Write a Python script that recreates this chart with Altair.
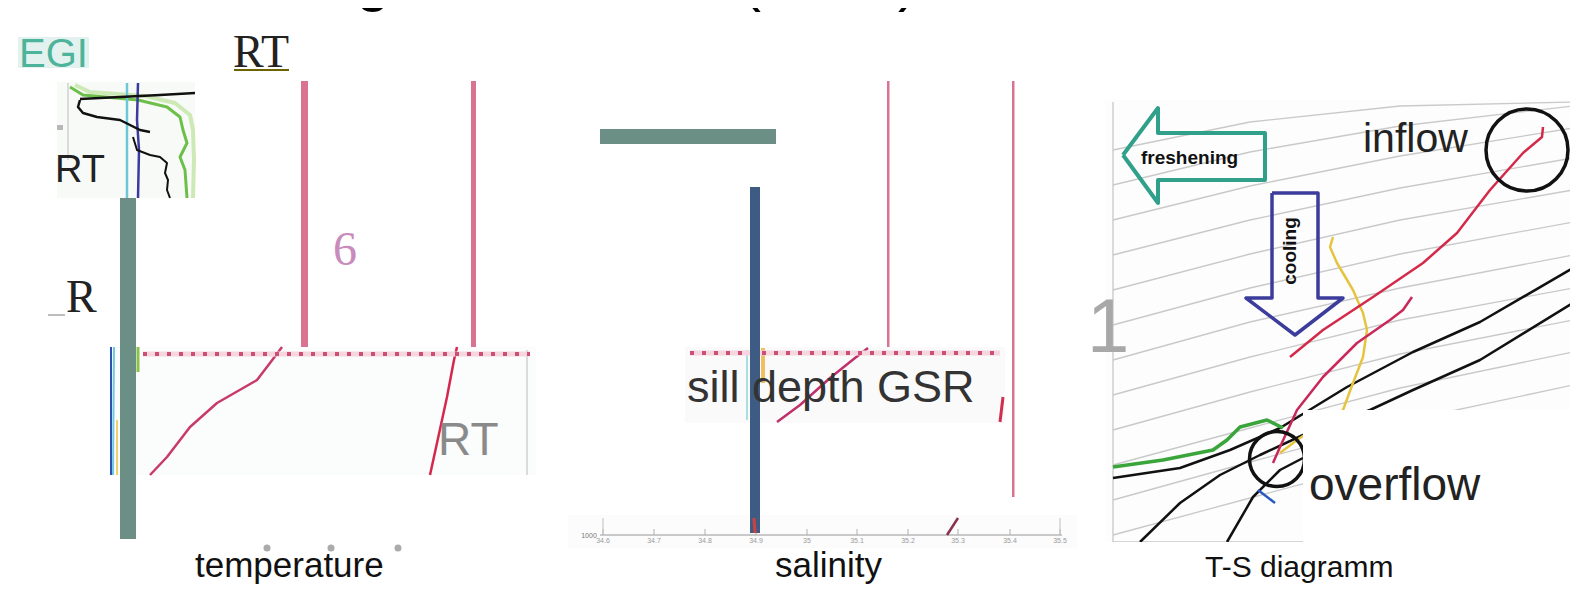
import altair as alt
import pandas as pd

# ---------------- data (pixel units of the slide) -------------
# image patches (x, x2, y, y2, fill)
PATCH_X = [18, 57, 109, 685, 568, 1105, 1105, 57]
PATCH_X2 = [89, 195, 536, 1005, 1077, 1578, 1303, 63]
PATCH_Y = [37, 82, 347, 347, 515, 100, 410, 125]
PATCH_Y2 = [68, 198, 475, 423, 548, 410, 545, 130]
PATCH_FILL = ["#e4f2ef", "#f8faf7", "#fbfcfc", "#fbfafa", "#fcfcfc", "#fdfdfd", "#fdfdfd", "#b8b8b8"]

# bars / solid strokes drawn on top (x, x2, y, y2, fill)
BAR_X = [301, 471, 887, 1012, 120, 600, 750, 234, 48]
BAR_X2 = [308, 476, 889.5, 1014.5, 136, 776, 760, 289, 65]
BAR_Y = [81, 81, 81, 81, 198, 129, 187, 69, 314]
BAR_Y2 = [347, 347, 347, 497, 539, 144, 533, 71, 316]
BAR_FILL = ["#d8748f", "#d8748f", "#d8748f", "#d8748f", "#6b8f85", "#6b8f85", "#3e5c83", "#6b6300", "#bdbdbd"]

# T-S isopycnals (grey)
ISO_X = [1113, 1250, 1400, 1573]
ISO_Y = [
    [150, 122, 106, 102],
    [185, 152, 126, 106],
    [220, 186, 156, 128],
    [255, 220, 188, 158],
    [290, 254, 220, 190],
    [325, 288, 254, 222],
    [360, 322, 288, 255],
    [395, 357, 320, 288],
    [430, 392, 354, 320],
    [465, 428, 388, 352],
    [500, 462, 422, 385],
    [535, 498, 458, 418],
]

# T-S curves
B1_X = [1113, 1180, 1230, 1280, 1347, 1413, 1480, 1573]
B1_Y = [478, 468, 450, 428, 387, 352, 322, 268]
B2_X = [1140, 1180, 1220, 1260, 1303, 1370, 1413, 1480, 1573]
B2_Y = [542, 503, 475, 455, 435, 410, 390, 360, 303]
B3_X = [1227, 1253, 1280, 1303]
B3_Y = [542, 497, 470, 458]
RED_IN_X = [1543, 1542, 1523, 1490, 1457, 1423, 1373, 1323, 1290]
RED_IN_Y = [127, 137, 153, 190, 233, 263, 297, 330, 357]
CRIMSON_X = [1412, 1403, 1390, 1357, 1323, 1297, 1280, 1273]
CRIMSON_Y = [297, 310, 320, 343, 377, 410, 447, 463]
YELLOW_X = [1333, 1330, 1337, 1353, 1363, 1367, 1363, 1353, 1343, 1327, 1297, 1280]
YELLOW_Y = [237, 247, 263, 290, 313, 330, 357, 383, 410, 420, 440, 453]
GREEN_X = [1113, 1163, 1213, 1227, 1240, 1267, 1283]
GREEN_Y = [467, 460, 450, 440, 427, 420, 428]
BLUE_X = [1258, 1275]
BLUE_Y = [490, 503]
FRESH_X = [1123, 1158, 1158, 1265, 1265, 1158, 1158, 1123]
FRESH_Y = [155, 108, 133, 133, 180, 180, 203, 155]
COOL_X = [1272, 1318, 1318, 1343, 1295, 1246, 1272, 1272]
COOL_Y = [193, 193, 298, 298, 335, 298, 298, 193]
TS_AXIS_X = [1113, 1113, 1303]
TS_AXIS_Y = [102, 542, 542]

# small profile image (top left)
SB1_X = [80, 120, 160, 195]
SB1_Y = [99, 97, 95, 93]
SB2_X = [80, 78, 83, 97, 120, 130, 140, 150]
SB2_Y = [100, 107, 113, 117, 120, 125, 130, 132]
SB3_X = [133, 137, 150, 160, 167, 165, 168, 167, 170]
SB3_Y = [137, 150, 155, 157, 163, 173, 180, 190, 198]
SCYAN_X = [127, 127]
SCYAN_Y = [83, 198]
SBLUE_X = [138, 137, 139, 138]
SBLUE_Y = [83, 120, 150, 198]
SGREEN_X = [70, 83, 138, 167, 180, 183, 187, 180, 185, 187]
SGREEN_Y = [87, 95, 100, 107, 117, 130, 143, 157, 170, 198]
SGREEN2_X = [75, 90, 145, 175, 190, 193, 194, 193]
SGREEN2_Y = [85, 92, 96, 103, 115, 130, 160, 198]
SGRID_X = [68, 68]
SGRID_Y = [83, 160]

# temperature strip
TRED1_X = [150, 167, 190, 217, 257, 270, 282]
TRED1_Y = [475, 457, 427, 403, 380, 363, 347]
TRED2_X = [430, 437, 447, 454, 457]
TRED2_Y = [475, 443, 397, 360, 347]
TBLUE_X = [111, 111]
TBLUE_Y = [347, 475]
TCYAN_X = [114, 113]
TCYAN_Y = [347, 475]
TYEL_X = [117, 117]
TYEL_Y = [420, 475]
TGREEN_X = [138, 138]
TGREEN_Y = [347, 372]
TBORDER_X = [527, 527]
TBORDER_Y = [350, 475]

# sill strip
SRED_X = [777, 800, 830, 855, 868]
SRED_Y = [422, 405, 378, 358, 348]
SRED2_X = [1003, 1000]
SRED2_Y = [397, 422]
SYEL_X = [763, 763]
SYEL_Y = [348, 383]
SCY2_X = [747, 747]
SCY2_Y = [350, 420]

# salinity axis strip
SAL_AXIS_X = [600, 1062]
SAL_AXIS_Y = [535, 535]
SAL_TICK_X = [603, 654, 705, 756, 807, 857, 908, 958, 1010, 1060]
SAL_TICK_LABELS = ["34.6", "34.7", "34.8", "34.9", "35", "35.1", "35.2", "35.3", "35.4", "35.5"]
SAL_DIAG_X = [947, 958]
SAL_DIAG_Y = [535, 518]
SAL_RED_X = [754, 755]
SAL_RED_Y = [518, 533]

# dotted "sill depth" lines
DOT_X = [143, 690]
DOT_X2 = [530, 1000]
DOT_Y = [354, 353]

# circles
CIRC_X = [1527, 1277]
CIRC_Y = [150, 459]
CIRC_D = [82, 55]

# grey dots
GDOT_X = [267, 331, 398]
GDOT_Y = [548, 548, 548]

# texts (sans, left aligned): text, x, baseline y, font size, colour
SANS_TEXT = ["EGI", "RT", "RT", "sill depth GSR", "temperature", "salinity", "T-S diagramm",
             "inflow", "overflow", "1"]
SANS_X = [19, 55, 438, 687, 195, 775, 1205, 1363, 1309, 1087]
SANS_Y = [67, 182, 455, 402, 577, 577, 577, 152, 500, 352]
SANS_FS = [40, 38, 46, 45, 35, 35, 30, 41, 46, 76]
SANS_C = ["#4db39b", "#222222", "#8a8a8a", "#333333", "#111111", "#111111", "#111111",
          "#222222", "#222222", "#a8a8a8"]
# title fragments at the very top (centered)
TITLE_TEXT = ["g", "(", ")"]
TITLE_X = [373, 751, 908]
TITLE_Y = [0, 0, 0]
# serif texts
SERIF_TEXT = ["RT", "R", "6"]
SERIF_X = [233, 66, 333]
SERIF_Y = [67, 312, 265]
SERIF_FS = [46, 46, 48]
SERIF_C = ["#222222", "#222222", "#c98bbb"]
# bold arrow labels
BOLD_TEXT = ["freshening"]
BOLD_X = [1141]
BOLD_Y = [164]
ROT_TEXT = ["cooling"]
ROT_X = [1290]
ROT_Y = [251]
# white mask behind "overflow" and cut edges
MASK_X = [1303, 1305, 1100]
MASK_X2 = [1578, 1500, 1310]
MASK_Y = [410, 455, 542]
MASK_Y2 = [584, 508, 584]

# ---------------- build tables -------------
XS = alt.Scale(domain=[8, 1570], nice=False, zero=False)
YS = alt.Scale(domain=[8, 584], nice=False, zero=False, reverse=True)


def X(f="x"):
    return alt.X(f"{f}:Q", scale=XS, axis=None)


def Y(f="y"):
    return alt.Y(f"{f}:Q", scale=YS, axis=None)


def rect_df(x, x2, y, y2, fill):
    return pd.DataFrame({"x": x, "x2": x2, "y": y, "y2": y2, "fill": fill})


lines = []


def add_line(name, xs, ys, color, width):
    for i, (a, b) in enumerate(zip(xs, ys)):
        lines.append({"s": name, "i": i, "x": a, "y": b, "c": color, "w": width})


for k, ys in enumerate(ISO_Y):
    add_line(f"iso{k}", ISO_X, ys, "#c9c9c9", 1.3)
add_line("tsaxis", TS_AXIS_X, TS_AXIS_Y, "#c8c8c8", 1.3)
add_line("b1", B1_X, B1_Y, "#111111", 2.5)
add_line("b2", B2_X, B2_Y, "#111111", 2.5)
add_line("b3", B3_X, B3_Y, "#111111", 2.5)
add_line("yellow", YELLOW_X, YELLOW_Y, "#e6c440", 2.5)
add_line("redin", RED_IN_X, RED_IN_Y, "#d42a4a", 2.5)
add_line("crimson", CRIMSON_X, CRIMSON_Y, "#c8285a", 2.5)
add_line("green", GREEN_X, GREEN_Y, "#3aa53a", 3.5)
add_line("blue", BLUE_X, BLUE_Y, "#2858c0", 2.5)
add_line("fresh", FRESH_X, FRESH_Y, "#30a08a", 4)
add_line("cool", COOL_X, COOL_Y, "#3c3c9c", 3.5)
ts_lines = pd.DataFrame(lines)

lines = []
add_line("sgrid", SGRID_X, SGRID_Y, "#d0d0d0", 1.5)
add_line("sgreen2", SGREEN2_X, SGREEN2_Y, "#cde9b5", 4)
add_line("sgreen", SGREEN_X, SGREEN_Y, "#6cc04a", 3)
add_line("scyan", SCYAN_X, SCYAN_Y, "#6cc8d8", 2.5)
add_line("sblue", SBLUE_X, SBLUE_Y, "#3a3aa0", 2.5)
add_line("sb1", SB1_X, SB1_Y, "#111111", 2.5)
add_line("sb2", SB2_X, SB2_Y, "#111111", 2.5)
add_line("sb3", SB3_X, SB3_Y, "#111111", 2)
add_line("tred1", TRED1_X, TRED1_Y, "#c83a6a", 2.5)
add_line("tred2", TRED2_X, TRED2_Y, "#d4284e", 2.5)
add_line("tblue", TBLUE_X, TBLUE_Y, "#3050b0", 2)
add_line("tcyan", TCYAN_X, TCYAN_Y, "#70c8e8", 2)
add_line("tyel", TYEL_X, TYEL_Y, "#f0d070", 2)
add_line("tgreen", TGREEN_X, TGREEN_Y, "#8bc34a", 3)
add_line("tborder", TBORDER_X, TBORDER_Y, "#d0d0d0", 1.5)
add_line("sred", SRED_X, SRED_Y, "#c0306a", 2.5)
add_line("sred2", SRED2_X, SRED2_Y, "#d03050", 3)
add_line("syel", SYEL_X, SYEL_Y, "#f0c060", 4)
add_line("scy2", SCY2_X, SCY2_Y, "#a8e0e0", 2)
add_line("salaxis", SAL_AXIS_X, SAL_AXIS_Y, "#b8b8b8", 1.5)
add_line("saldiag", SAL_DIAG_X, SAL_DIAG_Y, "#8a3050", 2.5)
for k, t in enumerate(SAL_TICK_X):
    add_line(f"tick{k}", [t, t], [529, 535], "#b0b0b0", 1)
add_line("tickl", [603, 603], [518, 535], "#c0c0c0", 1)
add_line("tickr", [1060, 1060], [518, 535], "#c0c0c0", 1)
other_lines = pd.DataFrame(lines)

lines = []
add_line("salred", SAL_RED_X, SAL_RED_Y, "#d04040", 3)
top_lines = pd.DataFrame(lines)


def line_layer(df):
    return alt.Chart(df).mark_line(strokeCap="butt", strokeJoin="round").encode(
        x=X(), y=Y(), detail="s:N", order="i:Q",
        color=alt.Color("c:N", scale=None),
        strokeWidth=alt.StrokeWidth("w:Q", scale=None),
    )


def rect_layer(df):
    return alt.Chart(df).mark_rect().encode(
        x=X(), x2="x2:Q", y=Y(), y2="y2:Q", color=alt.Color("fill:N", scale=None)
    )


patches = rect_layer(rect_df(PATCH_X, PATCH_X2, PATCH_Y, PATCH_Y2, PATCH_FILL))
bars = rect_layer(rect_df(BAR_X, BAR_X2, BAR_Y, BAR_Y2, BAR_FILL))
masks = rect_layer(rect_df(MASK_X, MASK_X2, MASK_Y, MASK_Y2, ["#ffffff"] * len(MASK_X)))

dots_df = pd.DataFrame({"x": DOT_X, "x2": DOT_X2, "y": DOT_Y})
dot_bg = alt.Chart(dots_df).mark_rule(color="#f6d6df", strokeWidth=5).encode(x=X(), x2="x2:Q", y=Y())
dots = alt.Chart(dots_df).mark_rule(color="#cc4f78", strokeWidth=4, strokeDash=[4, 8]).encode(
    x=X(), x2="x2:Q", y=Y())

circ_df = pd.DataFrame({"x": CIRC_X, "y": CIRC_Y, "size": [d * d for d in CIRC_D]})
circles = alt.Chart(circ_df).mark_point(shape="circle", filled=False, color="#111111",
                                        strokeWidth=3.5, opacity=1).encode(
    x=X(), y=Y(), size=alt.Size("size:Q", scale=None))

gdots = alt.Chart(pd.DataFrame({"x": GDOT_X, "y": GDOT_Y})).mark_point(
    shape="circle", filled=True, color="#ababab", size=49, opacity=1).encode(x=X(), y=Y())

sans = alt.Chart(pd.DataFrame({"t": SANS_TEXT, "x": SANS_X, "y": SANS_Y, "fs": SANS_FS, "c": SANS_C})
                 ).mark_text(font="Liberation Sans", align="left", baseline="alphabetic").encode(
    x=X(), y=Y(), text="t:N", size=alt.Size("fs:Q", scale=None), color=alt.Color("c:N", scale=None))

title = alt.Chart(pd.DataFrame({"t": TITLE_TEXT, "x": TITLE_X, "y": TITLE_Y})).mark_text(
    font="Liberation Sans", align="center", baseline="alphabetic", fontSize=60, color="#000000").encode(
    x=X(), y=Y(), text="t:N")

serif = alt.Chart(pd.DataFrame({"t": SERIF_TEXT, "x": SERIF_X, "y": SERIF_Y, "fs": SERIF_FS, "c": SERIF_C})
                  ).mark_text(font="Liberation Serif", align="left", baseline="alphabetic").encode(
    x=X(), y=Y(), text="t:N", size=alt.Size("fs:Q", scale=None), color=alt.Color("c:N", scale=None))

bold = alt.Chart(pd.DataFrame({"t": BOLD_TEXT, "x": BOLD_X, "y": BOLD_Y})).mark_text(
    font="Liberation Sans", fontWeight="bold", align="left", baseline="alphabetic", fontSize=19,
    color="#111111").encode(x=X(), y=Y(), text="t:N")

rot = alt.Chart(pd.DataFrame({"t": ROT_TEXT, "x": ROT_X, "y": ROT_Y})).mark_text(
    font="Liberation Sans", fontWeight="bold", align="center", baseline="middle", fontSize=19,
    angle=270, color="#111111").encode(x=X(), y=Y(), text="t:N")

ticks = alt.Chart(pd.DataFrame({"t": SAL_TICK_LABELS, "x": SAL_TICK_X, "y": [543] * len(SAL_TICK_X)})
                  ).mark_text(font="Liberation Sans", align="center", baseline="alphabetic", fontSize=7,
                              color="#9a9a9a").encode(x=X(), y=Y(), text="t:N")
depth_lbl = alt.Chart(pd.DataFrame({"t": ["1000"], "x": [589], "y": [538]})).mark_text(
    font="Liberation Sans", align="center", baseline="alphabetic", fontSize=7, color="#777777").encode(
    x=X(), y=Y(), text="t:N")

chart = alt.layer(
    patches, line_layer(ts_lines), circles, masks, line_layer(other_lines), dot_bg, dots,
    bars, line_layer(top_lines), sans, title, serif, bold, rot, ticks, depth_lbl, gdots,
).properties(width=1562, height=576, padding=0, autosize="none", background="#ffffff"
).configure_view(stroke=None)

chart.save("out.html", embed_options={"renderer": "svg", "actions": False})
